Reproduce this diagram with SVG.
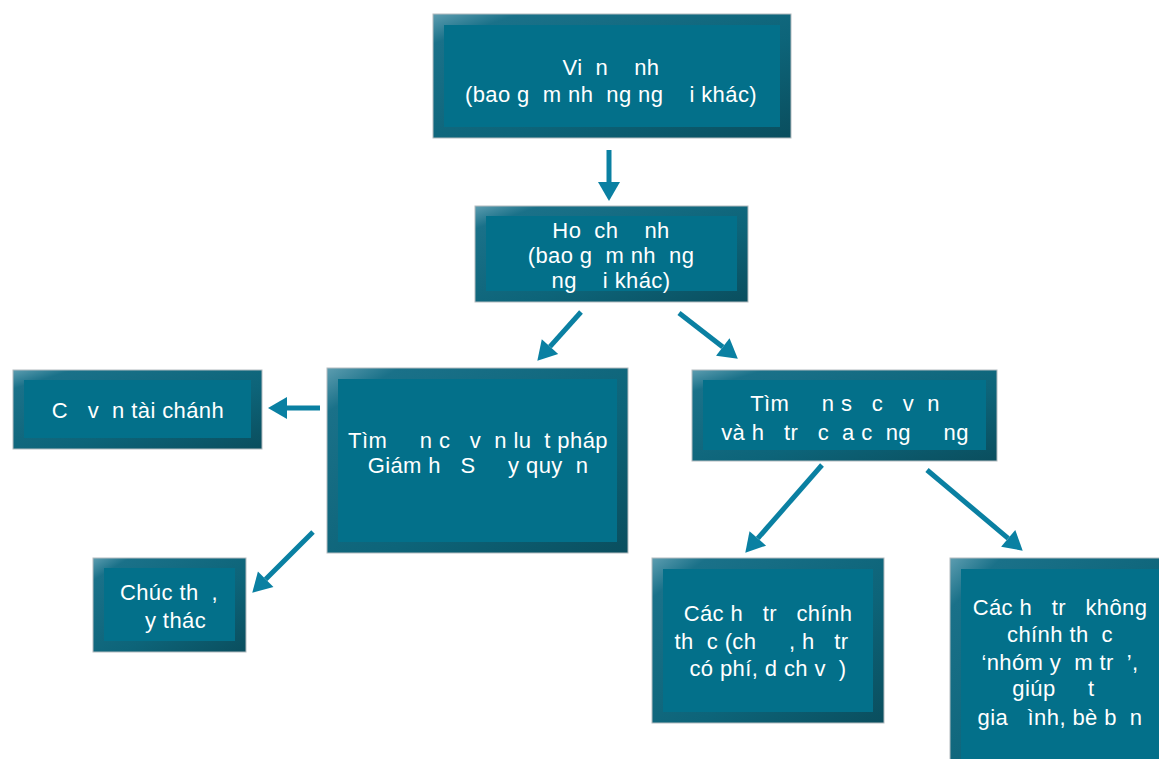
<svg xmlns="http://www.w3.org/2000/svg" width="1159" height="759" viewBox="0 0 1159 759">
<defs>
<linearGradient id="bev" x1="0" y1="0" x2="1" y2="1">
<stop offset="0" stop-color="#5d9db0"/>
<stop offset="0.12" stop-color="#1a7189"/>
<stop offset="0.6" stop-color="#0d6479"/>
<stop offset="1" stop-color="#0a4e5e"/>
</linearGradient>
<marker id="ah" markerUnits="userSpaceOnUse" markerWidth="20" markerHeight="24" refX="0" refY="11" orient="auto" overflow="visible">
<path d="M0,0 L19,11 L0,22 z" fill="#0a80a2"/>
</marker>
</defs>
<style>
.edge{fill:url(#bev);stroke:#b4bcc0;stroke-width:1}
.face{fill:#03708a}
.t{font-family:"Liberation Sans",Arial,sans-serif;font-size:22px;letter-spacing:0.4px;fill:#ffffff;text-anchor:middle}
.c{stroke:#0a80a2;stroke-width:5;fill:none;marker-end:url(#ah)}
</style>
<rect width="1159" height="759" fill="#ffffff"/>
<g id="connectors">
<line class="c" x1="609" y1="150" x2="609" y2="182"/>
<line class="c" x1="581" y1="312" x2="550" y2="346.6"/>
<line class="c" x1="679" y1="313" x2="722.8" y2="347"/>
<line class="c" x1="320" y1="408" x2="287" y2="408"/>
<line class="c" x1="313" y1="532" x2="265.7" y2="579.3"/>
<line class="c" x1="822" y1="465" x2="757.8" y2="538.4"/>
<line class="c" x1="927" y1="470" x2="1008.2" y2="538.4"/>
</g>
<g id="n1">
<rect class="edge" x="433" y="14" width="358" height="124"/>
<rect class="face" x="444" y="25" width="336" height="102"/>
<text class="t" xml:space="preserve"><tspan x="611" y="75">Vi  n    nh</tspan><tspan x="611" y="102">(bao g  m nh  ng ng    i khác)</tspan></text>
</g>
<g id="n2">
<rect class="edge" x="475" y="206" width="273" height="96"/>
<rect class="face" x="486" y="216" width="251" height="75"/>
<text class="t" xml:space="preserve"><tspan x="611" y="238">Ho  ch    nh</tspan><tspan x="611" y="263">(bao g  m nh  ng</tspan><tspan x="611" y="288">ng    i khác)</tspan></text>
</g>
<g id="n3">
<rect class="edge" x="13" y="370" width="249" height="79"/>
<rect class="face" x="24" y="380" width="227" height="58"/>
<text class="t" xml:space="preserve"><tspan x="138" y="418">C   v  n tài chánh</tspan></text>
</g>
<g id="n4">
<rect class="edge" x="327" y="368" width="301" height="185"/>
<rect class="face" x="338" y="379" width="279" height="163"/>
<text class="t" xml:space="preserve"><tspan x="478" y="448">Tìm     n c   v  n lu  t pháp</tspan><tspan x="478" y="473">Giám h   S     y quy  n</tspan></text>
</g>
<g id="n5">
<rect class="edge" x="692" y="370" width="305" height="91"/>
<rect class="face" x="703" y="380" width="283" height="70"/>
<text class="t" xml:space="preserve"><tspan x="845" y="411">Tìm     n s   c   v  n</tspan><tspan x="845" y="440">và h   tr   c  a c  ng     ng</tspan></text>
</g>
<g id="n6">
<rect class="edge" x="93" y="558" width="153" height="94"/>
<rect class="face" x="104" y="568" width="131" height="73"/>
<text class="t" xml:space="preserve"><tspan x="169" y="600">Chúc th  ,</tspan><tspan x="169" y="628">  y thác</tspan></text>
</g>
<g id="n7">
<rect class="edge" x="652" y="558" width="232" height="165"/>
<rect class="face" x="663" y="569" width="210" height="143"/>
<text class="t" xml:space="preserve"><tspan x="768" y="621">Các h   tr   chính</tspan><tspan x="768" y="649">th  c (ch     , h   tr  </tspan><tspan x="768" y="676">có phí, d ch v  )</tspan></text>
</g>
<g id="n8">
<rect class="edge" x="950" y="558" width="215" height="210"/>
<rect class="face" x="961" y="569" width="200" height="190"/>
<text class="t" xml:space="preserve"><tspan x="1060" y="615">Các h   tr   không</tspan><tspan x="1060" y="642">chính th  c</tspan><tspan x="1060" y="670">‘nhóm y  m tr  ’,</tspan><tspan x="1060" y="696">giúp     t  </tspan><tspan x="1060" y="725">gia   ình, bè b  n</tspan></text>
</g>
</svg>
